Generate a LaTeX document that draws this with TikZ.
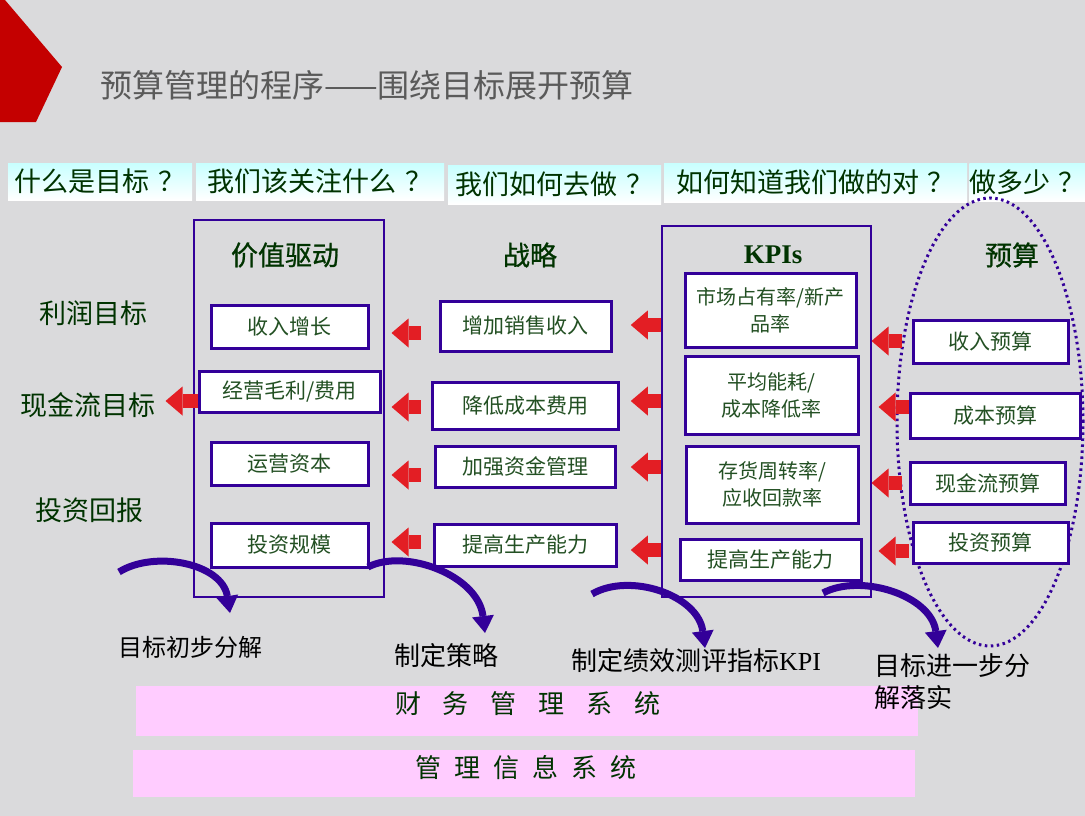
\documentclass[tikz,border=0pt]{standalone}
\usepackage{fontspec}
\setmainfont{Noto Sans CJK SC}
\newfontfamily\tnr{Liberation Serif}
\newfontfamily\semib[FakeBold=0.8]{Noto Sans CJK SC}
\usetikzlibrary{arrows.meta,shapes.geometric,calc}
\definecolor{bg}{RGB}{218,218,220}
\definecolor{pur}{RGB}{51,0,153}
\definecolor{rd}{RGB}{227,30,36}
\definecolor{dkg}{RGB}{0,51,0}
\definecolor{txg}{RGB}{35,80,35}
\definecolor{ttl}{RGB}{90,90,90}
\definecolor{pinkbar}{RGB}{255,204,255}
\definecolor{cyn}{RGB}{200,255,255}
\definecolor{crim}{RGB}{196,0,0}
\newcommand{\qm}{\hspace{0.3em}？}
\begin{document}
\begin{tikzpicture}[x=1pt,y=-1pt,
  hdr/.style={top color=cyn, bottom color=white, inner sep=0pt, text=dkg, font=\fontsize{27}{30}\selectfont},
  bigbox/.style={draw=pur, line width=2.5pt, inner sep=0pt},
  wbox/.style={draw=pur, line width=3pt, fill=white, inner sep=0pt, text=txg, font=\fontsize{21}{26}\selectfont, align=center},
  kbox/.style={wbox, font=\fontsize{20}{27}\selectfont},
  coltitle/.style={text=dkg, font=\fontsize{27}{30}\selectfont\semib},
  sidelabel/.style={text=dkg, font=\fontsize{27}{30}\selectfont},
  steplabel/.style={text=black, font=\fontsize{26}{32}\selectfont, align=left},
  pinkbox/.style={fill=pinkbar, inner sep=0pt, text=dkg, font=\fontsize{26}{30}\selectfont},
  redarr/.style={draw=rd, line width=14pt, -{Triangle[length=17pt,width=29pt,line width=0pt]}},
  purarc/.style={draw=pur, line width=7pt, -{Triangle[length=17pt,width=22pt,line width=0pt]}}
]
\useasboundingbox (0,0) rectangle (1085,816);
\fill[bg] (0,0) rectangle (1085,816);
\fill[crim] (0,0) -- (5,0) -- (62,67) -- (36,122) -- (0,122) -- cycle;
\node[text=ttl, font=\fontsize{32}{36}\selectfont] (title) at (367,85) {预算管理的程序——围绕目标展开预算};

% header row
\node[hdr, minimum width=184pt, minimum height=37pt] (h1) at (100,181.5) {什么是目标\qm};
\node[hdr, minimum width=248pt, minimum height=37pt] (h2) at (320,181.5) {我们该关注什么\qm};
\node[hdr, minimum width=213pt, minimum height=39pt] (h3) at (554.5,184.5) {我们如何去做\qm};
\node[hdr, minimum width=303pt, minimum height=39pt] (h4) at (815.5,182.5) {如何知道我们做的对\qm};
\node[hdr, minimum width=115pt, minimum height=38pt] (h5) at (1027.5,182) {做多少\qm};

% pink bars (behind labels)
\node[pinkbox, minimum width=782pt, minimum height=50pt] (p1) at (527,711) {};
\node[text=dkg, font=\fontsize{26}{30}\selectfont] (p1t) at (528,704) {财\hspace{22pt}务\hspace{22pt}管\hspace{22pt}理\hspace{22pt}系\hspace{22pt}统};
\node[pinkbox, minimum width=782pt, minimum height=47pt] (p2) at (524,773.5) {};
\node[text=dkg, font=\fontsize{26}{30}\selectfont] (p2t) at (526,768) {管\hspace{13pt}理\hspace{13pt}信\hspace{13pt}息\hspace{13pt}系\hspace{13pt}统};

% side labels
\node[sidelabel] (lr) at (93,313) {利润目标};
\node[sidelabel] (lc) at (88,405) {现金流目标};
\node[sidelabel] (li) at (89,510) {投资回报};

% value driver column
\node[bigbox, minimum width=190pt, minimum height=377pt] (vbox) at (289,408.5) {};
\node[coltitle] (vt) at (285,255) {价值驱动};
\node[wbox, minimum width=157pt, minimum height=43pt] (v1) at (289.5,326.5) {收入增长};
\node[wbox, minimum width=181pt, minimum height=41pt] (v2) at (289.5,391.5) {经营毛利/费用};
\node[wbox, minimum width=157pt, minimum height=43pt] (v3) at (289.5,463.5) {运营资本};
\node[wbox, minimum width=157pt, minimum height=44pt] (v4) at (289.5,545) {投资规模};

% strategy column
\node[coltitle] (st) at (530,255) {战略};
\node[wbox, minimum width=171pt, minimum height=50pt] (s1) at (525.5,326) {增加销售收入};
\node[wbox, minimum width=186pt, minimum height=47pt] (s2) at (525,405.5) {降低成本费用};
\node[wbox, minimum width=180pt, minimum height=41pt] (s3) at (525,466.5) {加强资金管理};
\node[wbox, minimum width=182pt, minimum height=42pt] (s4) at (525,545) {提高生产能力};

% KPI column
\node[bigbox, minimum width=209pt, minimum height=371pt] (kpibox) at (766.5,411.5) {};
\node[text=dkg, font=\fontsize{27}{30}\selectfont\tnr\bfseries] (kt) at (773,255) {KPIs};
\node[kbox, minimum width=171pt, minimum height=74pt] (k1) at (770.5,310) {市场占有率/新产\\品率};
\node[kbox, minimum width=173pt, minimum height=78pt] (k2) at (771.5,395) {平均能耗/\\成本降低率};
\node[kbox, minimum width=172pt, minimum height=77pt] (k3) at (772,484.5) {存货周转率/\\应收回款率};
\node[wbox, minimum width=181pt, minimum height=41pt] (k4) at (770.5,559.5) {提高生产能力};

% budget column
\node[draw=pur, line width=3pt, dash pattern=on 2.5pt off 3.5pt, ellipse, minimum width=186pt, minimum height=448pt, inner sep=0pt] (bell) at (990,422) {};
\node[coltitle] (bt) at (1012,255) {预算};
\node[wbox, minimum width=155pt, minimum height=43pt] (b1) at (990.5,341.5) {收入预算};
\node[wbox, minimum width=170pt, minimum height=45pt] (b2) at (995,415.5) {成本预算};
\node[wbox, minimum width=155pt, minimum height=42pt] (b3) at (987.5,483) {现金流预算};
\node[wbox, minimum width=155pt, minimum height=41pt] (b4) at (990.5,542.5) {投资预算};

% red arrows
\draw[redarr] ([shift={(0,9.5)}]v2.west) -- ++(-32,0);
\draw[redarr] ([shift={(-18,7)}]s1.west) -- ++(-29,0);
\draw[redarr] ([shift={(-10,1.5)}]s2.west) -- ++(-29,0);
\draw[redarr] ([shift={(-13,8.5)}]s3.west) -- ++(-29,0);
\draw[redarr] ([shift={(-12,-3)}]s4.west) -- ++(-29,0);
\draw[redarr] ([shift={(0,-86.5)}]kpibox.west) -- ++(-30,0);
\draw[redarr] ([shift={(0,-10.5)}]kpibox.west) -- ++(-30,0);
\draw[redarr] ([shift={(0,55.5)}]kpibox.west) -- ++(-30,0);
\draw[redarr] ([shift={(0,138.5)}]kpibox.west) -- ++(-30,0);
\draw[redarr] ([shift={(-10,-0.5)}]b1.west) -- ++(-30,0);
\draw[redarr] ([shift={(0,-8.5)}]b2.west) -- ++(-30,0);
\draw[redarr] ([shift={(-7,0)}]b3.west) -- ++(-30,0);
\draw[redarr] ([shift={(-3,8.5)}]b4.west) -- ++(-30,0);

% step labels
\node[steplabel, font=\fontsize{24}{30}\selectfont] (l1) at (190,647) {目标初步分解};
\node[steplabel] (l2) at (446,656) {制定策略};
\node[steplabel] (l3) at (696,661) {制定绩效测评指标{\tnr KPI}};
\node[steplabel, anchor=north west] (l4) at (871,650) {目标进一步分\\解落实};

% curved arrows
\coordinate (a1s) at (119,572); \coordinate (a1e) at (230,613);
\coordinate (a2s) at (368,567); \coordinate (a2e) at (485,633);
\coordinate (a3s) at (592,594); \coordinate (a3e) at (705,648);
\coordinate (a4s) at (823,593); \coordinate (a4e) at (938,648);
\draw[purarc] (a1s) .. controls (154,550) and (222,563) .. (a1e);
\draw[purarc] (a2s) .. controls (405,548) and (478,575) .. (a2e);
\draw[purarc] (a3s) .. controls (630,572) and (698,595) .. (a3e);
\draw[purarc] (a4s) .. controls (860,573) and (931,595) .. (a4e);
\end{tikzpicture}
\end{document}
